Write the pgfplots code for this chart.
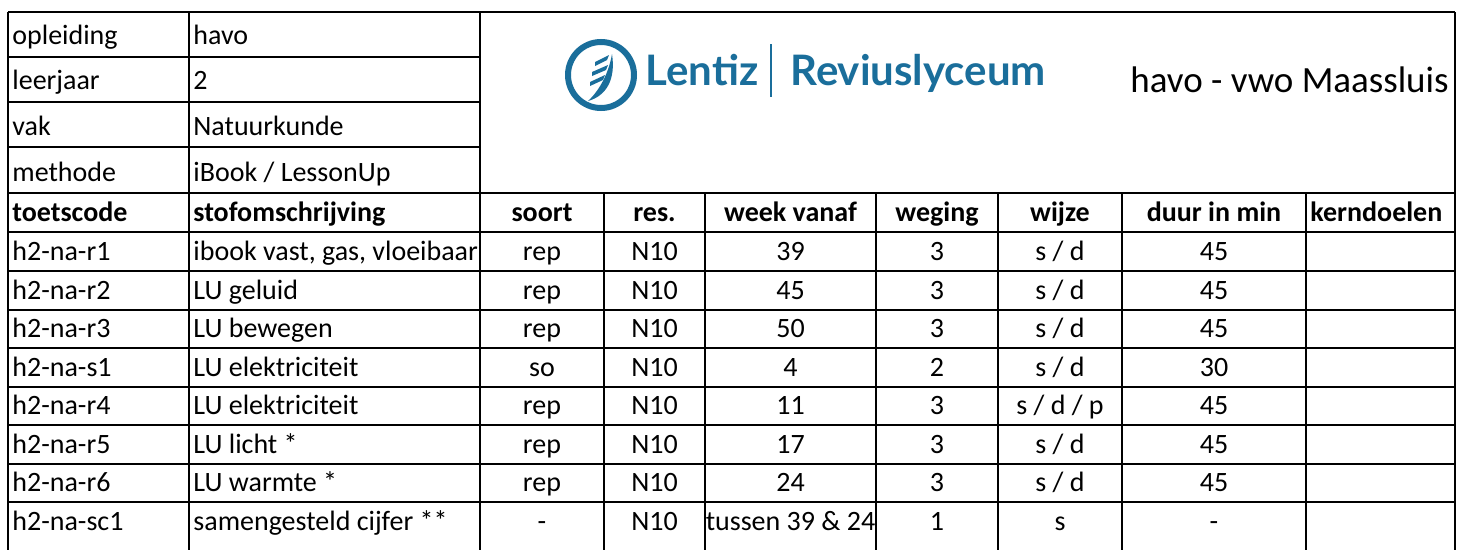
\documentclass[border=0pt]{standalone}
\usepackage{pgfplots}
\pgfplotsset{compat=1.18}
\usepackage{fontspec}
\setmainfont{Carlito}
\newfontfamily\logofont{Lato}
\definecolor{logoblue}{RGB}{26,110,155}
% cells: baseline given (Excel bottom alignment)
\newcommand{\cl}[3]{\node[anchor=base west,inner sep=0pt] at (axis cs:#1,#2) {#3};}
\newcommand{\cc}[3]{\node[anchor=base,inner sep=0pt] at (axis cs:#1,#2) {#3};}
\newcommand{\hl}[1]{\draw (axis cs:8,#1) -- (axis cs:1455,#1);}
\newcommand{\datarow}[9]{%
 \cl{12}{#1}{#2} \cl{193}{#1}{#3}
 \cc{542}{#1}{#4} \cc{654.5}{#1}{#5} \cc{790.5}{#1}{#6}
 \cc{937}{#1}{#7} \cc{1060}{#1}{#8} \cc{1214}{#1}{#9}}
\begin{document}
\begin{tikzpicture}
\begin{axis}[
  width=729pt, height=275pt, scale only axis,
  xmin=0, xmax=1458, ymin=0, ymax=550, y dir=reverse,
  hide axis, clip=false,
]
\fill[white] (axis cs:0,0) rectangle (axis cs:1458,550);
% ---- grid lines ----
\begin{scope}[line width=1.4pt, black]
\hl{12}
\draw (axis cs:8,57) -- (axis cs:480,57);
\draw (axis cs:8,102) -- (axis cs:480,102);
\draw (axis cs:8,147) -- (axis cs:480,147);
\hl{193} \hl{232} \hl{271} \hl{310} \hl{348} \hl{387} \hl{425} \hl{464} \hl{502}
\draw (axis cs:8,12) -- (axis cs:8,550);
\draw (axis cs:189,12) -- (axis cs:189,550);
\draw (axis cs:480,12) -- (axis cs:480,550);
\draw (axis cs:1455,12) -- (axis cs:1455,550);
\draw (axis cs:604,193) -- (axis cs:604,550);
\draw (axis cs:705,193) -- (axis cs:705,550);
\draw (axis cs:876,193) -- (axis cs:876,550);
\draw (axis cs:998,193) -- (axis cs:998,550);
\draw (axis cs:1122,193) -- (axis cs:1122,550);
\draw (axis cs:1306,193) -- (axis cs:1306,550);
\end{scope}
% ---- top info ----
\begin{scope}[font=\fontsize{14}{16}\selectfont]
\cl{12}{45}{opleiding} \cl{193}{45}{havo}
\cl{12}{90}{leerjaar}  \cl{193}{90}{2}
\cl{12}{135}{vak}      \cl{193}{135}{Natuurkunde}
\cl{12}{181}{methode}  \cl{193}{181}{iBook / LessonUp}
\end{scope}
% ---- logo ----
\draw[logoblue, line width=3pt] (axis cs:601,75) circle[radius=16.5pt];
\fill[logoblue] (axis cs:588,101) .. controls (axis cs:606,96) and (axis cs:616,80) .. (axis cs:612,54)
   .. controls (axis cs:609,72) and (axis cs:600,90) .. (axis cs:588,101) -- cycle;
\fill[logoblue] (axis cs:595,62) -- (axis cs:609,55) -- (axis cs:607,60) -- (axis cs:595,66) -- cycle;
\fill[logoblue] (axis cs:592,72) -- (axis cs:608,65) -- (axis cs:606,70) -- (axis cs:592,76) -- cycle;
\fill[logoblue] (axis cs:590,82) -- (axis cs:605,75) -- (axis cs:603,80) -- (axis cs:590,86) -- cycle;
\node[anchor=base west, inner sep=0pt, text=logoblue, font=\logofont\bfseries\fontsize{21}{24}\selectfont] at (axis cs:645,85) {Lentiz};
\draw[logoblue, line width=1.2pt] (axis cs:771,44) -- (axis cs:771,97);
\node[anchor=base west, inner sep=0pt, text=logoblue, font=\logofont\bfseries\fontsize{21}{24}\selectfont] at (axis cs:790,85) {Reviuslyceum};
\node[anchor=base west, inner sep=0pt, font=\fontsize{18.5}{20}\selectfont] at (axis cs:1130,92) {havo - vwo Maassluis};
% ---- header ----
\begin{scope}[font=\bfseries\fontsize{14}{16}\selectfont]
\cl{12}{221}{toetscode} \cl{193}{221}{stofomschrijving}
\cc{542}{221}{soort} \cc{654.5}{221}{res.} \cc{790.5}{221}{week vanaf}
\cc{937}{221}{weging} \cc{1060}{221}{wijze} \cc{1214}{221}{duur in min}
\cl{1310}{221}{kerndoelen}
\end{scope}
% ---- rows ----
\begin{scope}[font=\fontsize{14}{16}\selectfont]
\datarow{260}{h2-na-r1}{ibook vast, gas, vloeibaar}{rep}{N10}{39}{3}{s / d}{45}
\datarow{299}{h2-na-r2}{LU geluid}{rep}{N10}{45}{3}{s / d}{45}
\datarow{337}{h2-na-r3}{LU bewegen}{rep}{N10}{50}{3}{s / d}{45}
\datarow{376}{h2-na-s1}{LU elektriciteit}{so}{N10}{4}{2}{s / d}{30}
\datarow{414}{h2-na-r4}{LU elektriciteit}{rep}{N10}{11}{3}{s / d / p}{45}
\datarow{453}{h2-na-r5}{LU licht *}{rep}{N10}{17}{3}{s / d}{45}
\datarow{491}{h2-na-r6}{LU warmte *}{rep}{N10}{24}{3}{s / d}{45}
\datarow{530}{h2-na-sc1}{samengesteld cijfer **}{-}{N10}{tussen 39 \& 24}{1}{s}{-}
\end{scope}
\end{axis}
\end{tikzpicture}
\end{document}
